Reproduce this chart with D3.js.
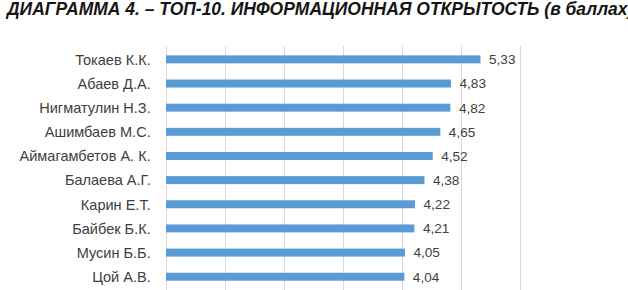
<!DOCTYPE html>
<html><head><meta charset="utf-8">
<script src="https://cdn.jsdelivr.net/npm/d3@7"></script>
<style>
html,body{margin:0;padding:0;background:#fff;}
svg{display:block;}
</style></head>
<body>
<svg id="chart" width="628" height="290"></svg>
<script>
const titleText = "ДИАГРАММА 4. – ТОП-10. ИНФОРМАЦИОННАЯ ОТКРЫТОСТЬ (в баллах)";
const names = ["Токаев К.К.","Абаев Д.А.","Нигматулин Н.З.","Ашимбаев М.С.","Аймагамбетов А. К.","Балаева А.Г.","Карин Е.Т.","Байбек Б.К.","Мусин Б.Б.","Цой А.В."];
const values = [5.33,4.83,4.82,4.65,4.52,4.38,4.22,4.21,4.05,4.04];
const gridTicks = [0,1,2,3,4,5,6];

const svg = d3.select("#chart");
const FONT = "'Liberation Sans', Arial, sans-serif";

function fitSize(text, target, base, weight, style) {
  const t = svg.append("text").attr("font-family", FONT).attr("font-size", base)
    .attr("font-weight", weight || "normal").attr("font-style", style || "normal").text(text);
  const w = t.node().getComputedTextLength();
  t.remove();
  return w > 0 ? base * target / w : base;
}

const x = d3.scaleLinear().domain([0,6]).range([166,520]);
const y = d3.scaleBand().domain(names).range([47.3,288.8]).paddingInner(0.67).paddingOuter(0.335);

const titleSize = fitSize(titleText, 627, 16, "bold", "italic");
svg.append("text").attr("x",7).attr("y",14.5)
  .attr("font-family",FONT)
  .attr("font-size",titleSize).attr("font-weight","bold").attr("font-style","italic")
  .attr("fill","#151515").text(titleText);

svg.append("g").selectAll("line").data(gridTicks).join("line")
  .attr("x1",d=>Math.round(x(d))+0.5).attr("x2",d=>Math.round(x(d))+0.5)
  .attr("y1",46).attr("y2",290)
  .attr("stroke","#d9d9d9").attr("stroke-width",1);

svg.append("g").selectAll("rect").data(values).join("rect")
  .attr("x",x(0)).attr("y",(d,i)=>y(names[i]))
  .attr("width",d=>x(d)-x(0)).attr("height",y.bandwidth())
  .attr("fill","#5b9bd5");

const nameSize = fitSize("Токаев К.К.", 75.5, 14);
svg.append("g").selectAll("text").data(names).join("text")
  .attr("x",150.7).attr("y",d=>y(d)+y.bandwidth()/2)
  .attr("dy","0.36em").attr("text-anchor","end")
  .attr("font-family",FONT).attr("font-size",nameSize)
  .attr("fill","#404040").text(d=>d);

const valSize = fitSize("5,33", 26.5, 14);
svg.append("g").selectAll("text").data(values).join("text")
  .attr("x",d=>x(d)+8.5).attr("y",(d,i)=>y(names[i])+y.bandwidth()/2)
  .attr("dy","0.36em")
  .attr("font-family",FONT).attr("font-size",valSize)
  .attr("fill","#404040").text(d=>d.toFixed(2).replace(".",","));
</script>
</body></html>
